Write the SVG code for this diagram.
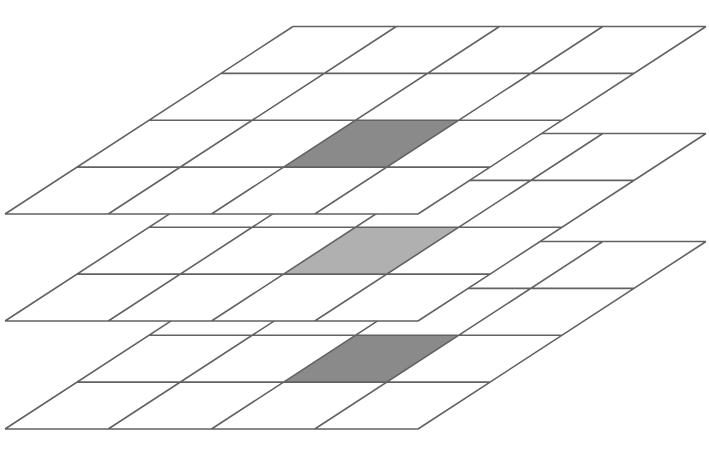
<svg xmlns="http://www.w3.org/2000/svg" xmlns:xlink="http://www.w3.org/1999/xlink" width="709" height="454" viewBox="0 0 709 454">
  <style>
    .plane { fill: #ffffff; stroke: none; }
    .grid { fill: none; stroke: #626262; stroke-width: 1.6; stroke-linejoin: round; }
    .dark { fill: #8a8a8a; }
    .light { fill: #b0b0b0; }
  </style>
  <defs>
    <polygon id="plane" points="293,26.5 706,26.5 418,214 5,214"/>
    <polygon id="cell" points="355.5,120.25 458.75,120.25 386.75,167.125 283.5,167.125"/>
    <path id="lines" d="M293,26.5 H706 M221,73.375 H634 M149,120.25 H562 M77,167.125 H490 M5,214 H418 M293,26.5 L5,214 M396.25,26.5 L108.25,214 M499.5,26.5 L211.5,214 M602.75,26.5 L314.75,214 M706,26.5 L418,214"/>
  </defs>
  <rect width="709" height="454" fill="#ffffff"/>
  <g id="layer-bottom" transform="translate(0,215)">
    <use xlink:href="#plane" class="plane"/>
    <use xlink:href="#cell" class="dark"/>
    <use xlink:href="#lines" class="grid"/>
  </g>
  <g id="layer-middle" transform="translate(0,107)">
    <use xlink:href="#plane" class="plane"/>
    <use xlink:href="#cell" class="light"/>
    <use xlink:href="#lines" class="grid"/>
  </g>
  <g id="layer-top">
    <use xlink:href="#plane" class="plane"/>
    <use xlink:href="#cell" class="dark"/>
    <use xlink:href="#lines" class="grid"/>
  </g>
  <g id="connectors"/>
</svg>
